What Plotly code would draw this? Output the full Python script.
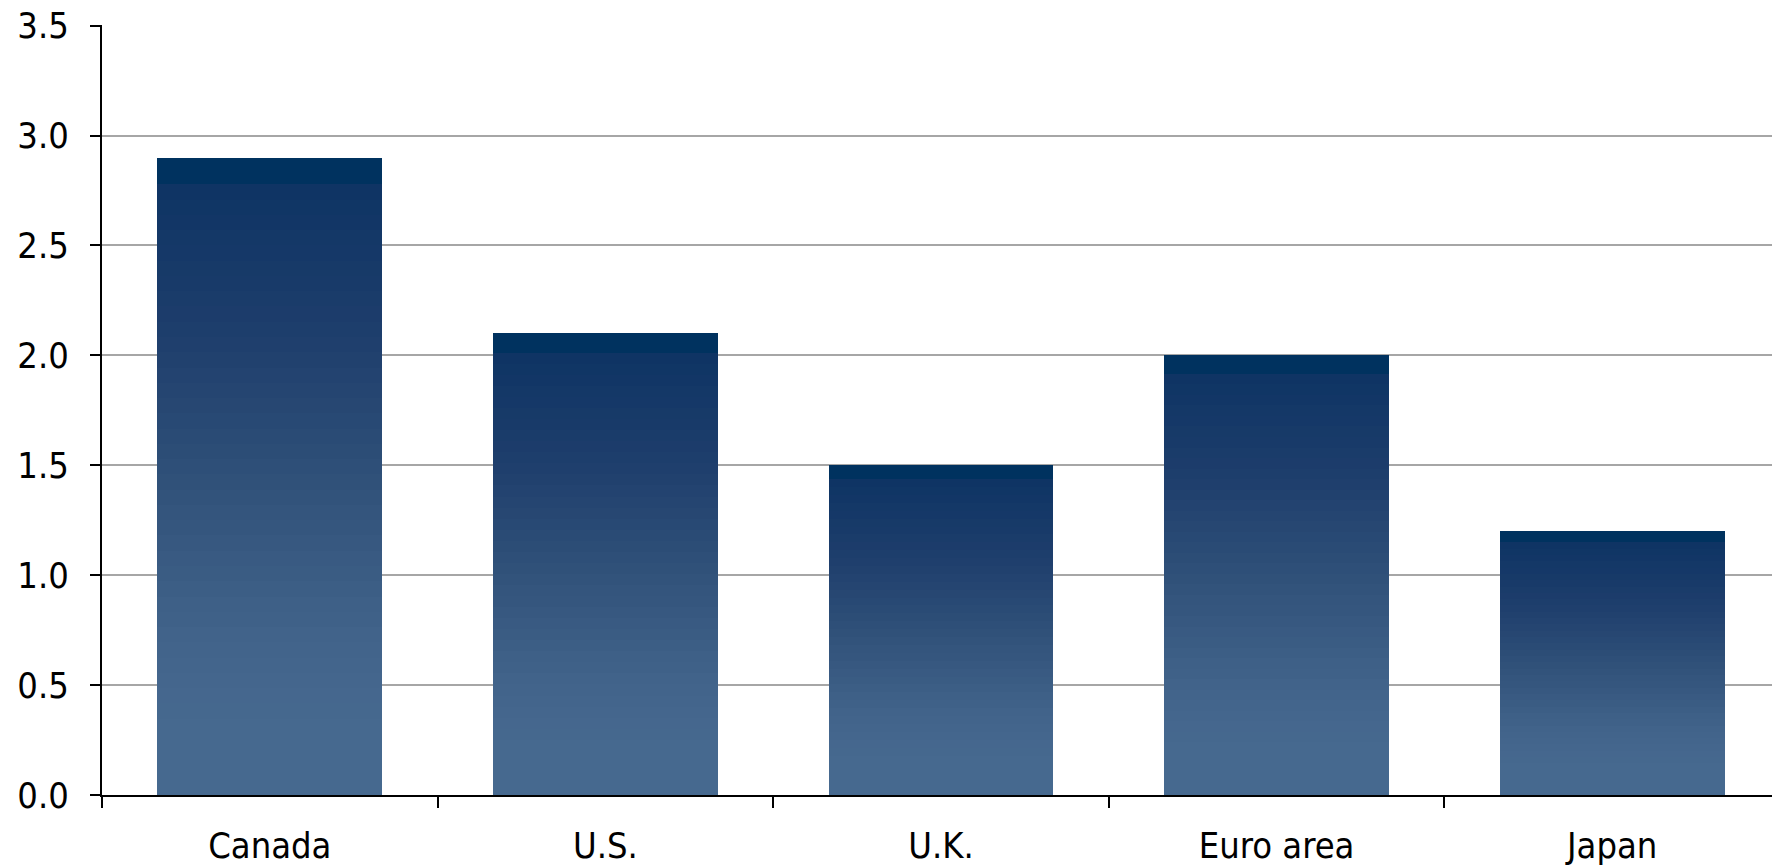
import plotly.graph_objects as go

categories = ["Canada", "U.S.", "U.K.", "Euro area", "Japan"]
values = [2.9, 2.1, 1.5, 2.0, 1.2]
y_ticks = [0.0, 0.5, 1.0, 1.5, 2.0, 2.5, 3.0, 3.5]
y_tick_labels = ["0.0", "0.5", "1.0", "1.5", "2.0", "2.5", "3.0", "3.5"]

# gradient stops: position from top of bar (0) to bottom (1) -> colour
stops = [(0.0, (0x0e, 0x34, 0x64)), (0.25, (0x1e, 0x3e, 0x6c)), (0.5, (0x31, 0x52, 0x7a)),
         (0.75, (0x42, 0x64, 0x8b)), (0.88, (0x46, 0x69, 0x8f)), (1.0, (0x46, 0x69, 0x8f))]


def colour_at(t):
    for (p0, c0), (p1, c1) in zip(stops[:-1], stops[1:]):
        if p0 <= t <= p1:
            f = (t - p0) / (p1 - p0) if p1 > p0 else 0
            c = [round(a + (b - a) * f) for a, b in zip(c0, c1)]
            return "rgb(%d,%d,%d)" % tuple(c)
    return "rgb(70,105,143)"


band = 0.042
n = 40
fig = go.Figure()
seg = (1 - band) / n
for k in range(n):
    t = 1 - (k + 0.5) / n  # fraction from top of the gradient part
    fig.add_trace(go.Bar(
        x=categories, y=[v * seg for v in values],
        marker=dict(color=colour_at(t), line=dict(width=0)),
        hoverinfo="skip", showlegend=False))
fig.add_trace(go.Bar(
    x=categories, y=[v * band for v in values],
    marker=dict(color="#00325f", line=dict(width=0)),
    hoverinfo="skip", showlegend=False))

fig.update_layout(
    barmode="stack", bargap=0.33,
    width=1780, height=866,
    margin=dict(l=94, r=8, t=17, b=79, autoexpand=False),
    plot_bgcolor="white", paper_bgcolor="white",
    font=dict(family="DejaVu Sans Condensed", size=36, color="black"),
)
fig.update_xaxes(
    showline=True, linecolor="black", linewidth=2,
    ticks="outside", ticklen=11, tickwidth=2, tickcolor="black",
    tickson="boundaries", showgrid=False, automargin=False,
    ticklabelstandoff=18,
)
fig.update_yaxes(
    range=[0, 3.503], tickvals=y_ticks, ticktext=y_tick_labels,
    showline=True, linecolor="black", linewidth=2,
    ticks="outside", ticklen=10, tickwidth=2, tickcolor="black",
    showgrid=True, gridcolor="#a6a6a6", gridwidth=2, automargin=False,
    zeroline=False, ticklabelstandoff=14, ticklabeloverflow="allow",
)
fig.write_html("out.html")
